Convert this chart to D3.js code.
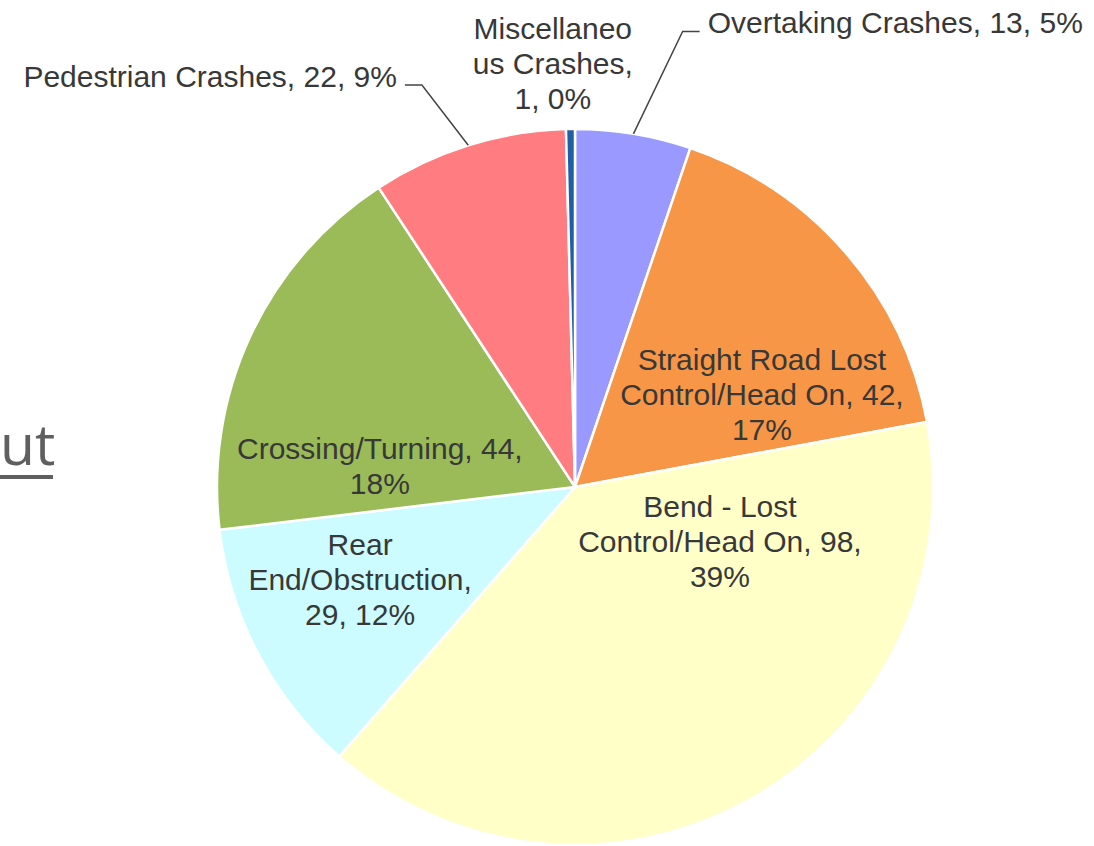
<!DOCTYPE html>
<meta charset="utf-8">
<style>
  body { margin: 0; background: #fff; }
  .labels text {
    font-family: Arial, "Liberation Sans", Helvetica, sans-serif;
    font-size: 30px;
    fill: #383838;
  }
  .leaders polyline {
    fill: none;
    stroke: #444;
    stroke-width: 1.5px;
  }
</style>
<svg width="1094" height="846"></svg>
<script src="https://d3js.org/d3.v7.min.js"></script>
<script>
  // crash types, clockwise from 12 o'clock
  var categories = ["Overtaking Crashes", "Straight Road Lost Control/Head On", "Bend - Lost Control/Head On",
    "Rear End/Obstruction", "Crossing/Turning", "Pedestrian Crashes", "Miscellaneous Crashes"];
  var counts = [13, 42, 98, 29, 44, 22, 1];
  var percents = ["5%", "17%", "39%", "12%", "18%", "9%", "0%"];
  // label text as Excel wrapped it
  var labelLines = [
    ["Overtaking Crashes, 13, 5%"],
    ["Straight Road Lost", "Control/Head On, 42,", "17%"],
    ["Bend - Lost", "Control/Head On, 98,", "39%"],
    ["Rear", "End/Obstruction,", "29, 12%"],
    ["Crossing/Turning, 44,", "18%"],
    ["Pedestrian Crashes, 22, 9%"],
    ["Miscellaneo", "us Crashes,", "1, 0%"]
  ];
  var colors = ["#9999ff", "#f79646", "#ffffc8", "#ccfcff", "#9bbb59", "#ff7c80", "#1f5fa6"];

  var svg = d3.select("svg"),
    cx = 575,
    cy = 487,
    radius = 358,
    lineH = 35;

  // label placement: angle (deg from top), distance as fraction of radius, anchor
  var labelAngle = [16.3, 63.8, 110.8, 246.6, 275.9, 336, 357];
  var labelDist = [1.32, 0.582, 0.433, 0.654, 0.548, 1.223, 1.184];
  var labelAnchor = ["start", "middle", "middle", "middle", "middle", "end", "middle"];
  var hasLeader = [true, false, false, false, false, true, false];

  var pie = d3.pie().sort(null).value(function(d) { return d; });
  var arcs = pie(counts);
  var arc = d3.arc().innerRadius(0).outerRadius(radius);

  // left-over slide link text behind the chart
  svg.append("text")
    .attr("x", 0)
    .attr("y", 465)
    .style("font-family", "'Open Sans', sans-serif")
    .style("font-size", "57px")
    .style("fill", "#5f5f5f")
    .text("ut");
  svg.append("rect")
    .attr("x", 0).attr("y", 475)
    .attr("width", 53).attr("height", 4)
    .style("fill", "#5f5f5f");

  var g = svg.append("g").attr("transform", "translate(" + cx + "," + cy + ")");

  g.append("g").attr("class", "slices")
    .selectAll("path")
    .data(arcs)
    .enter().append("path")
    .attr("d", arc)
    .style("fill", function(d, i) { return colors[i]; })
    .style("stroke", "#fff")
    .style("stroke-width", 2.5);

  function polar(deg, r) {
    var a = deg * Math.PI / 180;
    return [r * Math.sin(a), -r * Math.cos(a)];
  }

  var pos = labelAngle.map(function(a, i) { return polar(a, labelDist[i] * radius); });

  // leader lines from slice mid-angle on the rim to label
  var leaders = g.append("g").attr("class", "leaders");
  arcs.forEach(function(d, i) {
    if (!hasLeader[i]) return;
    var mid = (d.startAngle + d.endAngle) / 2;
    var rim = [radius * Math.sin(mid), -radius * Math.cos(mid)];
    var dir = labelAnchor[i] === "start" ? -1 : 1;
    var endX = pos[i][0] + dir * 8,
      elbowX = endX + dir * 17,
      y = pos[i][1] - 2;
    leaders.append("polyline")
      .attr("points", [rim, [elbowX, y], [endX, y]].map(function(p) { return p.join(","); }).join(" "));
  });

  var labels = g.append("g").attr("class", "labels");
  labelLines.forEach(function(lines, i) {
    var t = labels.append("text")
      .attr("text-anchor", labelAnchor[i])
      .attr("x", pos[i][0]);
    // outside single-line labels: y is the baseline; blocks are centred vertically
    var y0 = hasLeader[i] ? pos[i][1] : pos[i][1] - (lines.length - 1) * lineH / 2 + 10;
    lines.forEach(function(s, j) {
      t.append("tspan")
        .attr("x", pos[i][0])
        .attr("y", y0 + j * lineH)
        .text(s);
    });
  });
</script>
